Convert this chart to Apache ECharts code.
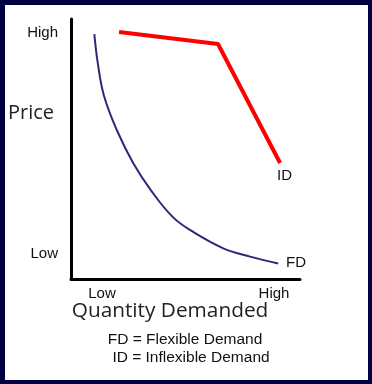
<!DOCTYPE html>
<html><head><meta charset="utf-8">
<script src="https://cdn.jsdelivr.net/npm/echarts@6/dist/echarts.min.js"></script>
<style>html,body{margin:0;padding:0;background:#000040}#c{width:372px;height:384px}</style>
</head><body><div id="c"></div>
<script>
// Inflexible demand (ID) points: [quantity, price] on 0-100 scale
const idX = [21.0, 64.2, 91.3];
const idY = [95.0, 90.4, 44.6];
// Flexible demand (FD) curve points
const fdX = [10.2, 11.7, 14.4, 20.0, 27.2, 35.0, 44.5, 53.5, 66.5, 78.2, 90.5];
const fdY = [94.2, 83.0, 70.5, 57.3, 44.5, 34.0, 23.8, 18.0, 11.8, 8.6, 6.0];
const yTickLabels = ['Low', 'High'];
const xTickLabels = ['Low', 'High'];
const seriesLabels = ['ID', 'FD'];
const legendLines = ['FD = Flexible Demand', 'ID = Inflexible Demand'];

const chart = echarts.init(document.getElementById('c'));
const G = {left: 71, right: 72, top: 19, bottom: 105};
const txt = (x, y, s, size, font, align, color) => ({
  type: 'text', x: x, y: y, z: 10,
  style: {text: s, fontSize: size, fontFamily: font, fill: color || '#111', textAlign: align || 'left', textVerticalAlign: 'middle'}
});
chart.setOption({
  backgroundColor: '#000040',
  animation: false,
  grid: {left: G.left, right: G.right, top: G.top, bottom: G.bottom},
  xAxis: {type: 'value', min: 0, max: 100, axisLine: {show: true, onZero: false, lineStyle: {color: '#000', width: 3}},
    axisTick: {show: false}, axisLabel: {show: false}, splitLine: {show: false}},
  yAxis: {type: 'value', min: 0, max: 100, axisLine: {show: true, onZero: false, lineStyle: {color: '#000', width: 3}},
    axisTick: {show: false}, axisLabel: {show: false}, splitLine: {show: false}},
  graphic: [
    {type: 'rect', shape: {x: 5, y: 5, width: 363, height: 375}, style: {fill: '#fff'}, z: -10},
    txt(58, 33, yTickLabels[1], 15, 'Liberation Sans', 'right'),
    txt(58, 254, yTickLabels[0], 15, 'Liberation Sans', 'right'),
    txt(8, 113, 'Price', 20, 'Open Sans', 'left', '#222'),
    txt(102, 294, xTickLabels[0], 15, 'Liberation Sans', 'center'),
    txt(274, 294, xTickLabels[1], 15, 'Liberation Sans', 'center'),
    txt(170, 311, 'Quantity Demanded', 20.8, 'Open Sans', 'center', '#222'),
    txt(277, 176, seriesLabels[0], 15, 'Liberation Sans', 'left'),
    txt(286, 263, seriesLabels[1], 15, 'Liberation Sans', 'left'),
    txt(185, 340, legendLines[0], 15.5, 'Liberation Sans', 'center'),
    txt(191, 358, legendLines[1], 15.5, 'Liberation Sans', 'center')
  ],
  series: [
    {type: 'line', data: idX.map((x, i) => [x, idY[i]]), symbol: 'none',
      lineStyle: {color: '#ff0000', width: 4}},
    {type: 'line', data: fdX.map((x, i) => [x, fdY[i]]), symbol: 'none', smooth: 0.4,
      lineStyle: {color: '#2a2a78', width: 2}}
  ]
});
</script></body></html>
